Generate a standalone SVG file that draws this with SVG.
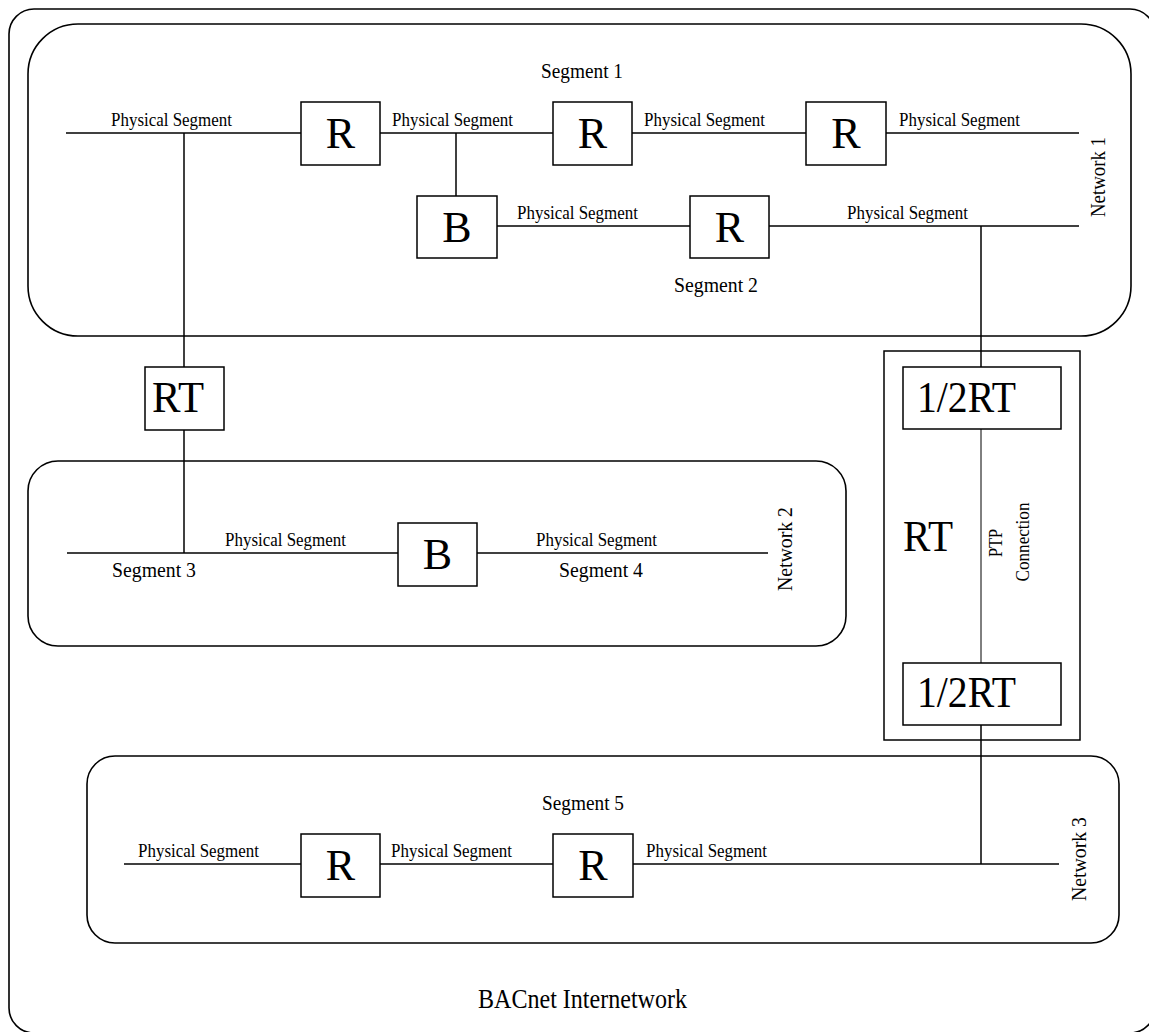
<svg xmlns="http://www.w3.org/2000/svg" width="1149" height="1032" viewBox="0 0 1149 1032">
<style>
.frame{fill:none;stroke:#000;stroke-width:1.6}
.box{fill:#fff;stroke:#000;stroke-width:1.5}
.ln{fill:none;stroke:#000;stroke-width:1.5}
.thin{fill:none;stroke:#000;stroke-width:1}
text{font-family:"Liberation Serif","Times New Roman",serif;fill:#000}
.ps{font-size:19px}
.seg{font-size:21.5px}
.big{font-size:44px}
.net{font-size:21px;text-anchor:middle}
.ptp{font-size:18px;text-anchor:middle}
</style>
<rect id="internetwork" class="frame" x="9" y="9" width="1146" height="1024" rx="25"/>
<g id="network1">
<rect class="frame" x="28" y="24" width="1103" height="312" rx="50"/>
<text class="seg" x="541" y="78" textLength="82" lengthAdjust="spacingAndGlyphs">Segment 1</text>
<text class="seg" x="674" y="292" textLength="84" lengthAdjust="spacingAndGlyphs">Segment 2</text>
<text class="net" transform="translate(1105,177) rotate(-90)" textLength="80" lengthAdjust="spacingAndGlyphs">Network 1</text>
</g>
<g id="network2">
<rect class="frame" x="28" y="461" width="818" height="185" rx="30"/>
<text class="seg" x="112" y="577" textLength="84" lengthAdjust="spacingAndGlyphs">Segment 3</text>
<text class="seg" x="559" y="577" textLength="84" lengthAdjust="spacingAndGlyphs">Segment 4</text>
<text class="net" transform="translate(792,549) rotate(-90)" textLength="84" lengthAdjust="spacingAndGlyphs">Network 2</text>
</g>
<g id="network3">
<rect class="frame" x="87" y="756" width="1032" height="187" rx="28"/>
<text class="seg" x="542" y="810" textLength="82" lengthAdjust="spacingAndGlyphs">Segment 5</text>
<text class="net" transform="translate(1086,859) rotate(-90)" textLength="84" lengthAdjust="spacingAndGlyphs">Network 3</text>
</g>
<g id="connectors">
<line class="ln" x1="66" y1="133" x2="301" y2="133"/>
<line class="ln" x1="380" y1="133" x2="553" y2="133"/>
<line class="ln" x1="632" y1="133" x2="806" y2="133"/>
<line class="ln" x1="886" y1="133" x2="1079" y2="133"/>
<line class="ln" x1="456" y1="133" x2="456" y2="196"/>
<line class="ln" x1="497" y1="226" x2="690" y2="226"/>
<line class="ln" x1="769" y1="226" x2="1079" y2="226"/>
<line class="ln" x1="981" y1="226" x2="981" y2="367"/>
<line class="thin" x1="981" y1="429" x2="981" y2="663"/>
<line class="ln" x1="981" y1="725" x2="981" y2="864"/>
<line class="ln" x1="184" y1="133" x2="184" y2="367"/>
<line class="ln" x1="184" y1="430" x2="184" y2="553"/>
<line class="ln" x1="67" y1="553" x2="398" y2="553"/>
<line class="ln" x1="477" y1="553" x2="768" y2="553"/>
<line class="ln" x1="124" y1="864" x2="301" y2="864"/>
<line class="ln" x1="380" y1="864" x2="553" y2="864"/>
<line class="ln" x1="633" y1="864" x2="1059" y2="864"/>
<text class="ps" x="111" y="126" textLength="121" lengthAdjust="spacingAndGlyphs">Physical Segment</text>
<text class="ps" x="392" y="126" textLength="121" lengthAdjust="spacingAndGlyphs">Physical Segment</text>
<text class="ps" x="644" y="126" textLength="121" lengthAdjust="spacingAndGlyphs">Physical Segment</text>
<text class="ps" x="899" y="126" textLength="121" lengthAdjust="spacingAndGlyphs">Physical Segment</text>
<text class="ps" x="517" y="219" textLength="121" lengthAdjust="spacingAndGlyphs">Physical Segment</text>
<text class="ps" x="847" y="219" textLength="121" lengthAdjust="spacingAndGlyphs">Physical Segment</text>
<text class="ps" x="225" y="546" textLength="121" lengthAdjust="spacingAndGlyphs">Physical Segment</text>
<text class="ps" x="536" y="546" textLength="121" lengthAdjust="spacingAndGlyphs">Physical Segment</text>
<text class="ps" x="138" y="857" textLength="121" lengthAdjust="spacingAndGlyphs">Physical Segment</text>
<text class="ps" x="391" y="857" textLength="121" lengthAdjust="spacingAndGlyphs">Physical Segment</text>
<text class="ps" x="646" y="857" textLength="121" lengthAdjust="spacingAndGlyphs">Physical Segment</text>
<text class="ptp" transform="translate(1002,543) rotate(-90)" textLength="28" lengthAdjust="spacingAndGlyphs">PTP</text>
<text class="ptp" transform="translate(1029,542) rotate(-90)" textLength="79" lengthAdjust="spacingAndGlyphs">Connection</text>
</g>
<g id="r1"><rect class="box" x="301" y="102" width="79" height="63"/><text class="big" x="340.5" y="148" text-anchor="middle">R</text></g>
<g id="r2"><rect class="box" x="553" y="102" width="79" height="63"/><text class="big" x="592.5" y="148" text-anchor="middle">R</text></g>
<g id="r3"><rect class="box" x="806" y="102" width="80" height="63"/><text class="big" x="846" y="148" text-anchor="middle">R</text></g>
<g id="b1"><rect class="box" x="417" y="196" width="80" height="62"/><text class="big" x="457" y="241.5" text-anchor="middle">B</text></g>
<g id="r4"><rect class="box" x="690" y="196" width="79" height="62"/><text class="big" x="729.5" y="241.5" text-anchor="middle">R</text></g>
<g id="rt-left"><rect class="box" x="145" y="367" width="79" height="63"/><text class="big" x="178" y="412" text-anchor="middle" textLength="52" lengthAdjust="spacingAndGlyphs">RT</text></g>
<g id="b2"><rect class="box" x="398" y="523" width="79" height="63"/><text class="big" x="437.5" y="568.5" text-anchor="middle">B</text></g>
<g id="r5"><rect class="box" x="301" y="834" width="79" height="63"/><text class="big" x="340.5" y="879.5" text-anchor="middle">R</text></g>
<g id="r6"><rect class="box" x="553" y="834" width="80" height="63"/><text class="big" x="593" y="879.5" text-anchor="middle">R</text></g>
<g id="rt-right">
<rect class="ln" x="884" y="351" width="196" height="389"/>
<text class="big" x="903" y="551" textLength="50" lengthAdjust="spacingAndGlyphs">RT</text>
</g>
<g id="halfrt-top"><rect class="box" x="903" y="367" width="158" height="62"/><text class="big" x="917" y="412" textLength="99" lengthAdjust="spacingAndGlyphs">1/2RT</text></g>
<g id="halfrt-bottom"><rect class="box" x="903" y="663" width="158" height="62"/><text class="big" x="917" y="707" textLength="99" lengthAdjust="spacingAndGlyphs">1/2RT</text></g>
<text x="478" y="1008" font-size="27" textLength="209" lengthAdjust="spacingAndGlyphs">BACnet Internetwork</text>
</svg>
